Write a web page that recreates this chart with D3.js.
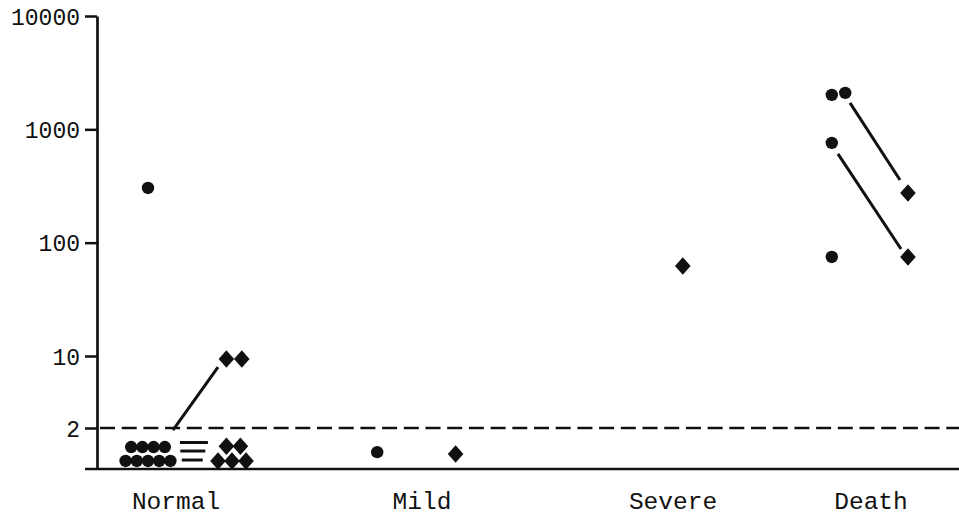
<!DOCTYPE html>
<html>
<head>
<meta charset="utf-8">
<script src="https://cdn.jsdelivr.net/npm/d3@7"></script>
<style>
  html, body { margin: 0; padding: 0; background: #fff; }
  svg { display: block; }
  text { font-family: "Liberation Mono", "DejaVu Sans Mono", monospace; fill: #111; }
</style>
</head>
<body>
<svg id="chart" width="959" height="517"></svg>
<script>
// ---------- data ----------
const categories = ["Normal", "Mild", "Severe", "Death"];

const yTickValues = [2, 10, 100, 1000, 10000];
const yTickLabels = ["2", "10", "100", "1000", "10000"];

const threshold = 2;

// circles (first measurement); col = column slot within the category
const circlePoints = [
  { cat: "Normal", col: -9, value: 1.145 },
  { cat: "Normal", col: -7, value: 1.145 },
  { cat: "Normal", col: -5, value: 1.145 },
  { cat: "Normal", col: -3, value: 1.145 },
  { cat: "Normal", col: -1, value: 1.145 },
  { cat: "Normal", col: -8, value: 1.45 },
  { cat: "Normal", col: -6, value: 1.45 },
  { cat: "Normal", col: -4, value: 1.45 },
  { cat: "Normal", col: -2, value: 1.45 },
  { cat: "Normal", col: -5, value: 304 },
  { cat: "Mild",   col: -8, value: 1.33 },
  { cat: "Death",  col: -7, value: 2013 },
  { cat: "Death",  col: -4.6, value: 2096 },
  { cat: "Death",  col: -7, value: 759 },
  { cat: "Death",  col: -7, value: 74.8 }
];

// diamonds (second measurement)
const diamondPoints = [
  { cat: "Normal", col: 7.5,  value: 1.145 },
  { cat: "Normal", col: 10,   value: 1.145 },
  { cat: "Normal", col: 12.5, value: 1.145 },
  { cat: "Normal", col: 9,    value: 1.47 },
  { cat: "Normal", col: 11.5, value: 1.47 },
  { cat: "Normal", col: 9,    value: 9.35 },
  { cat: "Normal", col: 11.75, value: 9.35 },
  { cat: "Mild",   col: 6,    value: 1.29 },
  { cat: "Severe", col: 1.75, value: 62.3 },
  { cat: "Death",  col: 6.6,  value: 274 },
  { cat: "Death",  col: 6.6,  value: 74.8 }
];

// short horizontal bars
const dashPoints = [
  { cat: "Normal", col: 3.2, value: 1.565 },
  { cat: "Normal", col: 3.0, value: 1.355 },
  { cat: "Normal", col: 2.9, value: 1.164 }
];

// connecting segments
const links = [
  { from: { cat: "Normal", col: -0.54, value: 1.93 }, to: { cat: "Normal", col: 7.5,  value: 7.8 } },
  { from: { cat: "Death",  col: -3.75, value: 1710 }, to: { cat: "Death",  col: 5.18, value: 357 } },
  { from: { cat: "Death",  col: -5.9,  value: 607 },  to: { cat: "Death",  col: 5.36, value: 87.9 } }
];

// ---------- scales ----------
const svg = d3.select("#chart");
const axisX = 97, rightX = 959;

const xCat = d3.scaleOrdinal().domain(categories).range([176, 422, 673, 871]);
const xCol = d3.scaleLinear().domain([0, 1]).range([0, 5.6]);
const X = d => xCat(d.cat) + xCol(d.col);

const y = d3.scaleLog().domain([1, 2, 10, 10000]).range([469, 428, 356, 16]);
const Y = d => y(d.value);

// ---------- axes ----------
const yAxis = d3.axisLeft(y)
  .tickValues(yTickValues)
  .tickFormat((d, i) => yTickLabels[i])
  .tickSizeInner(12)
  .tickSizeOuter(0)
  .tickPadding(5);

const gy = svg.append("g").attr("transform", `translate(${axisX},0)`).call(yAxis);
gy.select(".domain").attr("stroke", "#111").attr("stroke-width", 2.7);
gy.selectAll(".tick line").attr("stroke", "#111").attr("stroke-width", 2.5);
gy.selectAll(".tick text")
  .attr("font-family", "'Liberation Mono', monospace")
  .attr("font-size", 23)
  .attr("fill", "#111")
  .attr("dy", "0.36em");

// baseline
svg.append("line")
  .attr("x1", 85).attr("x2", rightX)
  .attr("y1", y(1)).attr("y2", y(1))
  .attr("stroke", "#111").attr("stroke-width", 2.7);

// threshold dashed line
svg.append("line")
  .attr("x1", axisX + 3).attr("x2", rightX)
  .attr("y1", y(threshold)).attr("y2", y(threshold))
  .attr("stroke", "#111").attr("stroke-width", 2.4)
  .attr("stroke-dasharray", "15,6.7");

// category labels
svg.append("g").selectAll("text")
  .data(categories)
  .join("text")
  .attr("x", d => xCat(d))
  .attr("y", 509)
  .attr("text-anchor", "middle")
  .attr("font-size", 24.5)
  .text(d => d);

// ---------- marks ----------
svg.append("g").selectAll("line")
  .data(links)
  .join("line")
  .attr("x1", d => X(d.from)).attr("y1", d => Y(d.from))
  .attr("x2", d => X(d.to)).attr("y2", d => Y(d.to))
  .attr("stroke", "#111").attr("stroke-width", 3);

svg.append("g").selectAll("circle")
  .data(circlePoints)
  .join("circle")
  .attr("cx", X).attr("cy", Y)
  .attr("r", 6.2)
  .attr("fill", "#111");

const hw = 7.8, hh = 8.8;
svg.append("g").selectAll("path")
  .data(diamondPoints)
  .join("path")
  .attr("transform", d => `translate(${X(d)},${Y(d)})`)
  .attr("d", `M0,${-hh}L${hw},0L0,${hh}L${-hw},0Z`)
  .attr("fill", "#111");

const dashWidths = [28, 25, 21];
svg.append("g").selectAll("line")
  .data(dashPoints)
  .join("line")
  .attr("x1", (d, i) => X(d) - dashWidths[i] / 2)
  .attr("x2", (d, i) => X(d) + dashWidths[i] / 2)
  .attr("y1", Y).attr("y2", Y)
  .attr("stroke", "#111").attr("stroke-width", 3);
</script>
</body>
</html>
